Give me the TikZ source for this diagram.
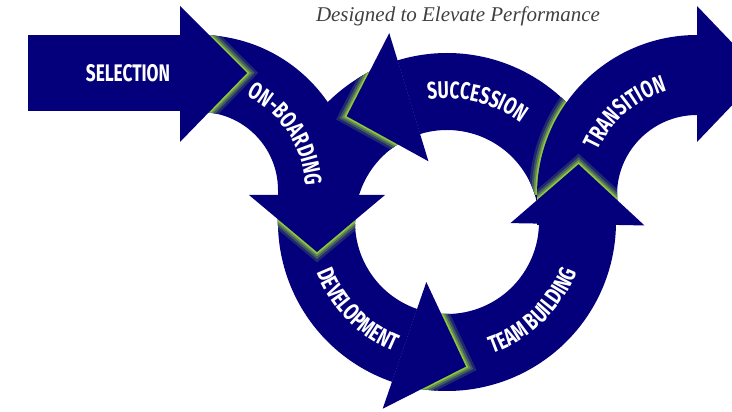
\documentclass[tikz,border=0pt]{standalone}
\usepackage{fontspec}
\usetikzlibrary{calc,decorations.text}
\newfontfamily\arrowfont{Fira Sans}[FakeStretch=0.72]
\newfontfamily\titlefont{Liberation Serif}
\definecolor{navyblue}{RGB}{4,0,124}
\definecolor{leafgreen}{RGB}{141,198,63}
\definecolor{titlegray}{RGB}{64,64,64}
\newcommand{\capsfont}{\arrowfont\bfseries\fontsize{24}{24}\selectfont}
% a piece of the ring between two angles
\newcommand{\ringpiece}[2]{($(C)+(#1:169pt)$) arc[start angle=#1, end angle=#2, radius=169pt] -- ($(C)+(#2:92pt)$) arc[start angle=#2, end angle=#1, radius=92pt] -- cycle}
% front edges of a ring arrow head: base angle, direction, length
\newcommand{\ringtip}[3]{($(C)+(#1:197.5pt)$) -- ($(C)+(#1:130.5pt)+(#2:#3pt)$) -- ($(C)+(#1:63.5pt)$)}
\newcommand{\onbpath}{(180,377) -- (200,377) arc[start angle=90, end angle=0, radius=155pt] -- (355,217) -- (278,217) -- (278,222) arc[start angle=0, end angle=90, radius=78pt] -- (180,300) -- cycle}
\newcommand{\transpath}{(537,187) -- (537,217) arc[start angle=180, end angle=90, radius=160pt] -- (697,297) arc[start angle=90, end angle=180, radius=80pt] -- (617,187) -- cycle}
\begin{document}
\begin{tikzpicture}[x=1pt, y=1pt,
  body/.style={fill=navyblue},
  glow/.style={draw=leafgreen!20!navyblue, line width=16pt, line join=miter,
    postaction={draw=leafgreen!45!navyblue, line width=11pt},
    postaction={draw=leafgreen!70!navyblue, line width=7pt},
    postaction={draw=leafgreen, line width=3.5pt}},
  arctext/.style={decorate, decoration={text along path, text align=center, text color=white}}]
  \useasboundingbox (0,0) rectangle (732,412);
  \clip (0,0) rectangle (732,412);
  \coordinate (C) at (447,190);
  \coordinate (O) at (200,222);
  \coordinate (T) at (697,217);

  % bodies
  \fill[body] (28,301) rectangle (180,377);
  \fill[body] \onbpath;
  \fill[body] \ringpiece{107}{251};
  \fill[body] \ringpiece{251}{359};
  \fill[body] \ringpiece{5}{107};
  \begin{scope}
    \clip \ringpiece{5}{107};
    \path[glow] (537,217) arc[start angle=180, end angle=100, radius=160pt];
  \end{scope}
  \fill[body] \transpath;

  % green edges in the notches
  \begin{scope}
    \clip \onbpath;
    \path[glow] (180,406) -- (247,339) -- (180,270);
  \end{scope}
  \begin{scope}
    \clip \ringpiece{107}{251};
    \path[glow] \ringtip{107}{197}{65};
    \path[glow] (249,217) -- (317,160) -- (385,217);
  \end{scope}
  \begin{scope}
    \clip \ringpiece{251}{359};
    \path[glow] \ringtip{251}{341}{65};
  \end{scope}
  \begin{scope}
    \clip \transpath;
    \path[glow] \ringtip{359}{89}{60};
  \end{scope}

  % heads
  \fill[body] (180,406) -- (247,339) -- (180,270) -- cycle;
  \fill[body] (249,217) -- (317,160) -- (385,217) -- cycle;
  \fill[body] \ringtip{107}{197}{65} -- cycle;
  \fill[body] \ringtip{251}{341}{65} -- cycle;
  \fill[body] \ringtip{359}{89}{60} -- cycle;
  \fill[body] (697,406) -- (762,338) -- (697,270) -- cycle;

  % labels
  \node[text=white, font=\capsfont] (selection) at (128,339) {SELECTION};
  \path[arctext, decoration={text={|\capsfont|ON-BOARDING}}]
    ($(O)+(73:105pt)$) arc[start angle=73, end angle=-7, radius=105pt];
  \path[arctext, decoration={text={|\capsfont|DEVELOPMENT}}]
    ($(C)+(190:140pt)$) arc[start angle=190, end angle=259, radius=140pt];
  \path[arctext, decoration={text={|\capsfont|TEAM BUILDING}}]
    ($(C)+(280:139pt)$) arc[start angle=280, end angle=348, radius=139pt];
  \path[arctext, decoration={text={|\capsfont|SUCCESSION}}]
    ($(C)+(100:123.5pt)$) arc[start angle=100, end angle=52, radius=123.5pt];
  \path[arctext, decoration={text={|\capsfont|TRANSITION}}]
    ($(T)+(160:108.5pt)$) arc[start angle=160, end angle=102, radius=108.5pt];
  \node[anchor=base, text=titlegray, font=\titlefont\itshape\fontsize{21}{21}\selectfont]
    (title) at (458,390) {Designed to Elevate Performance};
\end{tikzpicture}
\end{document}
